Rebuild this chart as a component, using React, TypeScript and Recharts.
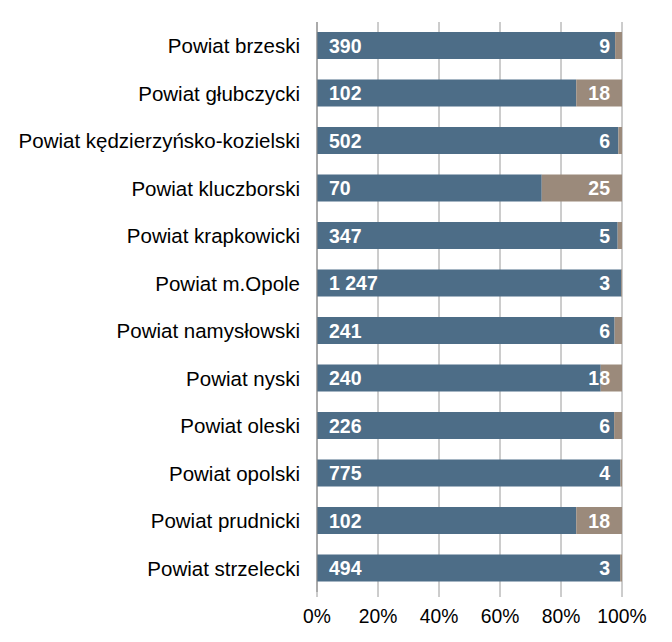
import * as React from 'react';
import { BarChart, Bar, XAxis, YAxis, CartesianGrid, LabelList } from 'recharts';

const districts = [
	'Powiat brzeski',
	'Powiat głubczycki',
	'Powiat kędzierzyńsko-kozielski',
	'Powiat kluczborski',
	'Powiat krapkowicki',
	'Powiat m.Opole',
	'Powiat namysłowski',
	'Powiat nyski',
	'Powiat oleski',
	'Powiat opolski',
	'Powiat prudnicki',
	'Powiat strzelecki',
];
const blueValues = [390, 102, 502, 70, 347, 1247, 241, 240, 226, 775, 102, 494];
const brownValues = [9, 18, 6, 25, 5, 3, 6, 18, 6, 4, 18, 3];
const xTicks = [0, 0.2, 0.4, 0.6, 0.8, 1];

const data = districts.map((name, i) => ({ name, blue: blueValues[i], brown: brownValues[i] }));

const fmt = (v: any) => String(v).replace(/\B(?=(\d{3})+(?!\d))/g, ' ');

const font = '"Liberation Sans", Arial, sans-serif';

const BlueLabel = (props: any) => {
	const { x, y, height, value } = props;
	return (
		<text x={x + 12} y={y + height / 2} dy="0.36em" fill="#fff" fontSize={19.5} fontWeight="bold" fontFamily={font}>
			{fmt(value)}
		</text>
	);
};

const BrownLabel = (props: any) => {
	const { x, y, width, height, value } = props;
	return (
		<text x={x + width - 12} y={y + height / 2} dy="0.36em" fill="#fff" fontSize={19.5} fontWeight="bold" fontFamily={font} textAnchor="end">
			{fmt(value)}
		</text>
	);
};

export default function App() {
	return (
		<div style={{ position: 'absolute', left: 0, top: 0 }}>
			<BarChart
				width={672}
				height={642}
				data={data}
				layout="vertical"
				stackOffset="expand"
				margin={{ top: 22, right: 50, bottom: 0, left: 0 }}
				barSize={27}
			>
				<CartesianGrid horizontal={false} vertical stroke="#9a9a9a" />
				<XAxis
					type="number"
					domain={[0, 1]}
					ticks={xTicks}
					tickFormatter={v => `${Math.round(v * 100)}%`}
					axisLine={false}
					tickLine={{ stroke: '#9a9a9a' }}
					tickSize={5}
					tickMargin={12}
					height={50}
					interval={0}
					tick={{ fill: '#000', fontSize: 19.3, fontFamily: font }}
				/>
				<YAxis
					type="category"
					dataKey="name"
					width={317}
					axisLine={{ stroke: '#888' }}
					tickLine={false}
					tickSize={0}
					tickMargin={17}
					interval={0}
					tick={{ fill: '#000', fontSize: 20.5, fontFamily: font }}
				/>
				<Bar dataKey="blue" stackId="a" fill="#4d6d87" isAnimationActive={false}>
					<LabelList dataKey="blue" content={BlueLabel} />
				</Bar>
				<Bar dataKey="brown" stackId="a" fill="#9b8a7b" isAnimationActive={false}>
					<LabelList dataKey="brown" content={BrownLabel} />
				</Bar>
			</BarChart>
		</div>
	);
}
